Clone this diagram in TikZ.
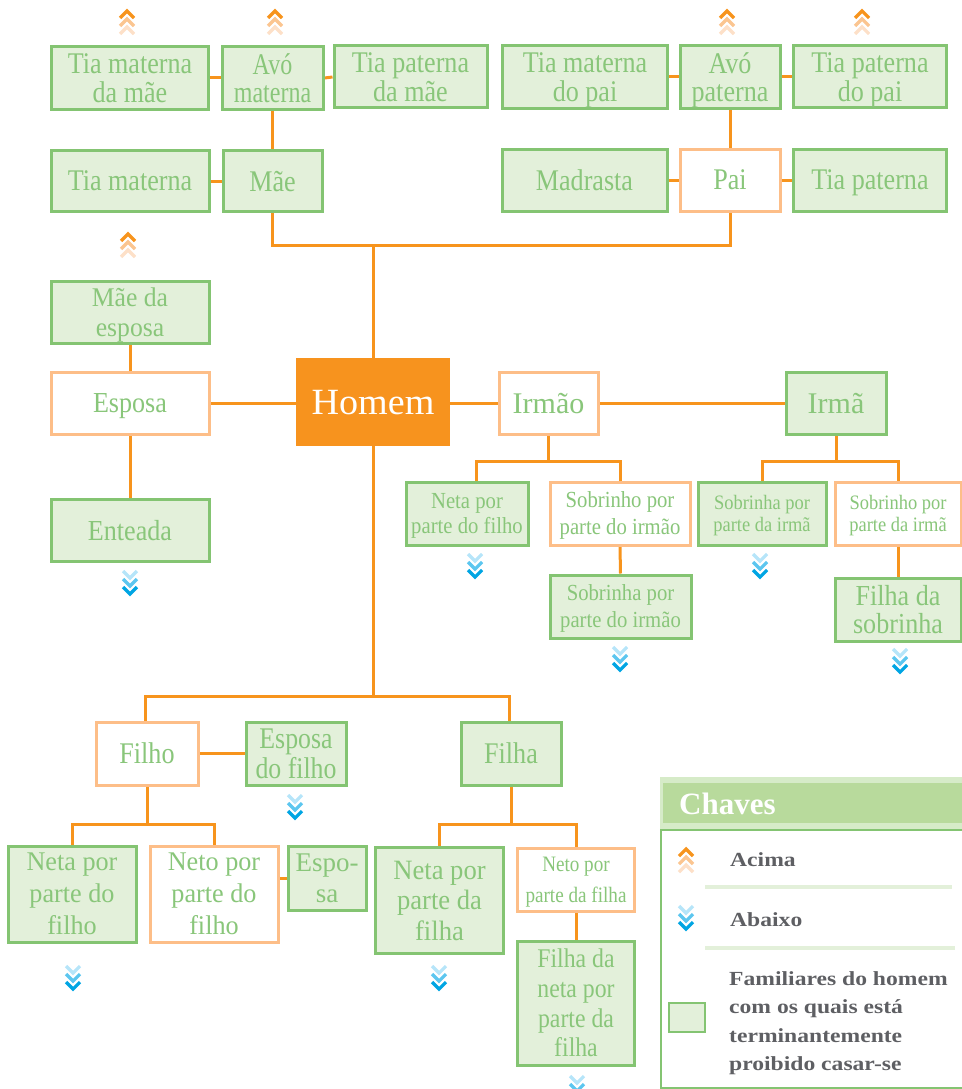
\documentclass[tikz,border=0pt]{standalone}
\usepackage{fontspec}
\setmainfont{Liberation Serif}
\newfontfamily\legfont{Liberation Serif}[FakeStretch=1.18]
\newfontfamily\chfont{Liberation Serif}
\newcommand\fz[3]{\fontsize{#2}{#3}\selectfont\addfontfeature{FakeStretch=#1}}
\definecolor{lineor}{HTML}{F7941D}
\definecolor{gborder}{HTML}{84C472}
\definecolor{gfill}{HTML}{E3F0DA}
\definecolor{gtext}{HTML}{89C67A}
\definecolor{oborder}{HTML}{FDBE88}
\definecolor{homfill}{HTML}{F7931E}
\definecolor{chA}{HTML}{F7941D}
\definecolor{chB}{HTML}{FBC590}
\definecolor{chC}{HTML}{FDE0C8}
\definecolor{blA}{HTML}{B6E5F9}
\definecolor{blB}{HTML}{5CC6EF}
\definecolor{blC}{HTML}{00A5E3}
\definecolor{hdr}{HTML}{B8DA9C}
\definecolor{hdrb}{HTML}{D6EBC8}
\definecolor{legtext}{HTML}{5E5F63}
\pgfdeclarelayer{background}
\pgfsetlayers{background,main}
\tikzset{
  box/.style={rectangle, line width=3pt, inner sep=0pt, align=center, text=gtext, text depth=0pt, font=\fz{0.87}{30}{28.5}},
  gbox/.style={box, draw=gborder, fill=gfill},
  obox/.style={box, draw=oborder, fill=white},
  wh/.style 2 args={minimum width=#1pt, minimum height=#2pt},
  conn/.style={draw=lineor, line width=3pt},
  upchev/.pic={
    \draw[chC, line width=3.2pt] (-7,23)--(0,16)--(7,23);
    \draw[chB, line width=3.2pt] (-7,15)--(0,8)--(7,15);
    \draw[chA, line width=3.2pt] (-7,7)--(0,0)--(7,7);
  },
  downchev/.pic={
    \draw[blA, line width=3.2pt] (-7,0)--(0,7)--(7,0);
    \draw[blB, line width=3.2pt] (-7,8)--(0,15)--(7,8);
    \draw[blC, line width=3.2pt] (-7,16)--(0,23)--(7,16);
  },
  legtxt/.style={inner sep=0pt, text=legtext, align=left, font=\legfont\bfseries\fontsize{20}{28.5}\selectfont},
}
\begin{document}
\begin{tikzpicture}[x=1pt,y=-1pt]
\useasboundingbox (0,0) rectangle (961,1089);
% top row
\node[gbox, wh={157}{63}] (tmm) at (130,78) {Tia materna\\da mãe};
\node[gbox, wh={101}{63}, font=\fz{0.8}{30}{28.5}] (avm) at (272.5,78) {Avó\\materna};
\node[gbox, wh={153}{62}] (tpm) at (410.5,77) {Tia paterna\\da mãe};
\node[gbox, wh={165}{63}] (tmp) at (585,77) {Tia materna\\do pai};
\node[gbox, wh={100}{63}] (avp) at (730,77) {Avó\\paterna};
\node[gbox, wh={153}{62}] (tpp) at (870,77) {Tia paterna\\do pai};
% second row
\node[gbox, wh={158}{61}] (tm) at (130,181) {Tia materna};
\node[gbox, wh={99}{61}] (mae) at (272.5,181) {Mãe};
\node[gbox, wh={165}{62}] (mad) at (584.5,180) {Madrasta};
\node[obox, wh={100}{62}] (pai) at (730,180) {Pai};
\node[gbox, wh={153}{62}] (tp) at (870,180) {Tia paterna};
% middle
\node[gbox, wh={158}{62}, font=\fz{0.95}{27}{30}] (mde) at (130,312) {Mãe da\\esposa};
\node[obox, wh={158}{62}, font=\fz{0.9}{29}{30}] (esp) at (130,403) {Esposa};
\node[gbox, wh={158}{62}, font=\fz{0.9}{29}{30}] (ent) at (130,530) {Enteada};
\node[rectangle, fill=homfill, inner sep=0pt, wh={154}{88}, text=white, text depth=0pt, font=\fz{1.03}{37}{37}] (hom) at (373,402) {Homem};
\node[obox, wh={99}{62}, font=\fz{1.0}{30}{30}] (irmao) at (548.5,403) {Irmão};
\node[gbox, wh={100}{62}, font=\fz{1.0}{30}{30}] (irma) at (836,403) {Irmã};
% irmao / irma children
\node[gbox, wh={122}{63}, font=\fz{0.9}{23}{25}] (npfa1) at (467,513.5) {Neta por\\parte do filho};
\node[obox, wh={140}{63}, font=\fz{0.9}{23}{27}] (spi) at (620,513.5) {Sobrinho por\\parte do irmão};
\node[gbox, wh={141}{63}, font=\fz{0.9}{23}{27}] (spiB) at (620.5,606.5) {Sobrinha por\\parte do irmão};
\node[gbox, wh={128}{63}, font=\fz{0.9}{20.5}{22}] (sia) at (762,513.5) {Sobrinha por\\parte da irmã};
\node[obox, wh={126}{63}, font=\fz{0.9}{20.5}{22}] (soi) at (898,513.5) {Sobrinho por\\parte da irmã};
\node[gbox, wh={126}{63}, font=\fz{0.9}{29}{28.5}] (fds) at (898,609.5) {Filha da\\sobrinha};
% children
\node[obox, wh={102}{63}] (filho) at (147,753.5) {Filho};
\node[gbox, wh={100}{63}, font=\fz{0.86}{30}{30}] (edf) at (296,753.5) {Esposa\\do filho};
\node[gbox, wh={100}{63}] (filha) at (511,753.5) {Filha};
\node[gbox, wh={128}{96}, font=\fz{0.97}{27}{32}] (npfb) at (72,894) {Neta por\\parte do\\filho};
\node[obox, wh={128}{96}, font=\fz{0.97}{27}{32}] (nepf) at (214,894) {Neto por\\parte do\\filho};
\node[gbox, wh={78}{64}, font=\fz{1.0}{27}{31}] (espo) at (327,878) {Espo-\\sa};
\node[gbox, wh={128}{106}, font=\fz{0.95}{28}{30.5}] (npfc) at (439.5,900.5) {Neta por\\parte da\\filha};
\node[obox, wh={117}{63}, font=\fz{0.87}{22}{31}] (nefa) at (576,880) {Neto por\\parte da filha};
\node[gbox, wh={117}{124}, font=\fz{0.88}{27}{29.7}] (fnpf) at (576,1003) {Filha da\\neta por\\parte da\\filha};
% connectors
\coordinate (jp) at (373,245);
\coordinate (ji) at (548.5,461);
\coordinate (jj) at (836,461);
\coordinate (jh) at (373,696);
\coordinate (jf) at (147,824);
\coordinate (jg) at (511,824);
\begin{pgfonlayer}{background}
\draw[conn] (tmm.east) -- (avm.west);
\draw[conn] (avm.east) -- (tpm.west);
\draw[conn] (tmp.east) -- (avp.west);
\draw[conn] (avp.east) -- (tpp.west);
\draw[conn] (avm.south) -- (mae.north);
\draw[conn] (avp.south) -- (pai.north);
\draw[conn] (tm.east) -- (mae.west);
\draw[conn] (mad.east) -- (pai.west);
\draw[conn] (pai.east) -- (tp.west);
\draw[conn] (mae.south) |- (jp) -| (pai.south);
\draw[conn] (jp) -- (hom.north);
\draw[conn] (mde.south) -- (esp.north);
\draw[conn] (esp.south) -- (ent.north);
\draw[conn] (esp.east) -- (esp.east -| hom.west);
\draw[conn] (irmao.west -| hom.east) -- (irmao.west);
\draw[conn] (irmao.east) -- (irma.west);
\draw[conn] (irmao.south) -- (ji);
\draw[conn] ([xshift=9pt]npfa1.north) |- (ji) -| (spi.north);
\draw[conn] (spi.south) -- (spiB.north);
\draw[conn] (irma.south) -- (jj);
\draw[conn] (sia.north) |- (jj) -| (soi.north);
\draw[conn] (soi.south) -- (fds.north);
\draw[conn] (hom.south) -- (jh);
\draw[conn] ([xshift=-2pt]filho.north) |- (jh) -| ([xshift=-2pt]filha.north);
\draw[conn] (filho.east) -- (edf.west);
\draw[conn] (filho.south) -- (jf);
\draw[conn] (npfb.north) |- (jf) -| (nepf.north);
\draw[conn] (nepf.east |- espo.west) -- (espo.west);
\draw[conn] (filha.south) -- (jg);
\draw[conn] (npfc.north) |- (jg) -| (nefa.north);
\draw[conn] (nefa.south) -- (fnpf.north);
\end{pgfonlayer}
% chevrons up
\foreach \px/\py in {127/11, 275/11, 727/11, 862/11, 128/234}
  \pic at (\px,\py) {upchev};
% chevrons down
\foreach \px/\py in {130/571, 475/554, 620/647, 760/554, 900/649, 295/795, 73/966, 439/966, 577/1076}
  \pic at (\px,\py) {downchev};
% legend
\fill[hdrb] (660,777) rectangle (962,829);
\fill[hdr] (663,783) rectangle (962,823);
\node[anchor=base west, inner sep=0pt, text=white, font=\chfont\bfseries\fontsize{31}{31}\selectfont] (chaves) at (679,814) {Chaves};
\draw[gborder, line width=2pt, fill=white] (661,830) rectangle (963,1088);
\pic at (686,849) {upchev};
\node[legtxt, anchor=base west] (acima) at (730,866) {Acima};
\draw[gfill, line width=4pt] (705,887) -- (952,887);
\pic at (686,906) {downchev};
\node[legtxt, anchor=base west] (abaixo) at (730,926) {Abaixo};
\draw[gfill, line width=4pt] (705,948) -- (955,948);
\draw[gborder, line width=2.5pt, fill=gfill] (669,1003) rectangle (705,1032);
\node[legtxt, anchor=west] (fam) at (729,1023) {Familiares do homem\\com os quais está\\terminantemente\\proibido casar-se};
\end{tikzpicture}
\end{document}
